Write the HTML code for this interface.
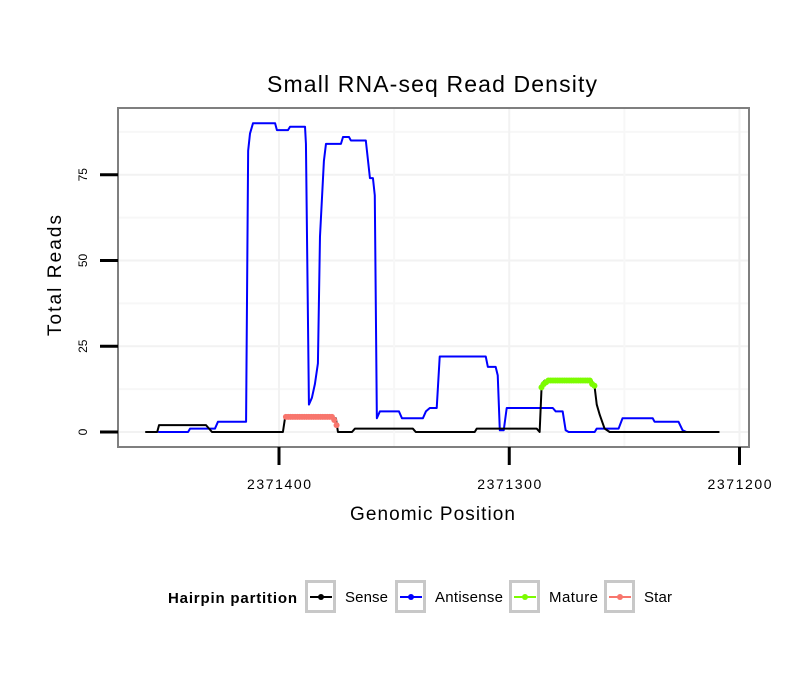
<!DOCTYPE html>
<html><head><meta charset="utf-8"><style>
body{margin:0;background:#fff;font-family:"Liberation Sans",sans-serif}
svg text{font-family:"Liberation Sans",sans-serif}
</style></head><body>
<svg id="chart" width="810" height="690" viewBox="0 0 810 690">
<rect width="810" height="690" fill="#fff"/>
<text x="267" y="92" font-size="23" textLength="330" lengthAdjust="spacing">Small RNA-seq Read Density</text>
<g id="grid"></g>
<g id="series"></g>
<rect x="118" y="108" width="631" height="339" fill="none" stroke="#7f7f7f" stroke-width="2"/>
<g id="axes"></g>
<text x="350" y="520" font-size="19" textLength="165" lengthAdjust="spacing">Genomic Position</text>
<text transform="translate(61,336) rotate(-90)" font-size="19" textLength="121" lengthAdjust="spacing">Total Reads</text>
<g>
<text x="168" y="603" font-size="15" font-weight="bold" textLength="129" lengthAdjust="spacing">Hairpin partition</text>
<g id="legend"></g>
</g>
</svg>
<script>
const xTicks=[2371400,2371300,2371200];
const yTicks=[0,25,50,75];
const senseX=[2371458.1,2371452.9,2371452.1,2371431.7,2371429.1,2371398.3,2371397.4,2371375.3,2371374.4,2371368.3,2371367.0,2371341.9,2371340.6,2371315.0,2371314.1,2371288.1,2371286.8,2371285.9,2371284.6,2371264.2,2371262.9,2371262.0,2371260.7,2371258.6,2371256.4,2371208.7];
const senseY=[0,0,2,2,0,0,4,4,0,0,1,1,0,0,1,1,0,14,15,15,13,8,5,1,0,0];
const antiX=[2371452.5,2371439.5,2371438.6,2371427.8,2371426.5,2371414.3,2371413.4,2371412.6,2371411.3,2371401.7,2371400.9,2371396.1,2371395.2,2371388.7,2371388.3,2371387.0,2371385.7,2371384.4,2371383.1,2371382.2,2371380.5,2371379.6,2371373.1,2371372.2,2371369.6,2371368.8,2371362.3,2371360.5,2371359.2,2371358.4,2371357.5,2371356.2,2371347.9,2371346.6,2371337.5,2371336.2,2371334.5,2371331.5,2371330.2,2371329.3,2371310.2,2371309.3,2371305.9,2371305.0,2371304.1,2371302.4,2371301.1,2371299.8,2371281.1,2371279.8,2371276.8,2371275.5,2371274.2,2371262.9,2371262.0,2371252.5,2371250.8,2371237.7,2371236.9,2371226.5,2371224.7,2371223.0];
const antiY=[0,0,1,1,3,3,82,87,90,90,88,88,89,89,84,8,10,14,20,57,79,84,84,86,86,85,85,74,74,69,4,6,6,4,4,6,7,7,22,22,22,19,19,16.5,0.5,0.5,7,7,7,6,6,0.5,0,0,1,1,4,4,3,3,0.5,0];
const matureX=[2371286,2371285,2371284,2371283,2371282,2371281,2371280,2371279,2371278,2371277,2371276,2371275,2371274,2371273,2371272,2371271,2371270,2371269,2371268,2371267,2371266,2371265,2371264,2371263];
const matureY=[13,14,14.5,15,15,15,15,15,15,15,15,15,15,15,15,15,15,15,15,15,15,15,14,13.5];
const starX=[2371397,2371396,2371395,2371394,2371393,2371392,2371391,2371390,2371389,2371388,2371387,2371386,2371385,2371384,2371383,2371382,2371381,2371380,2371379,2371378,2371377,2371376,2371375];
const starY=[4.4,4.4,4.4,4.4,4.4,4.4,4.4,4.4,4.4,4.4,4.4,4.4,4.4,4.4,4.4,4.4,4.4,4.4,4.4,4.4,4.4,3.5,2];
const NS='http://www.w3.org/2000/svg';
function xs(v){return 279+(2371400-v)*2.3025;}
function ys(v){return 432-v*3.43;}
function mk(tag,attrs,parent){const e=document.createElementNS(NS,tag);for(const k in attrs)e.setAttribute(k,attrs[k]);parent.appendChild(e);return e;}
const grid=document.getElementById('grid'),axes=document.getElementById('axes'),ser=document.getElementById('series');
for(let i=0;i<yTicks.length;i++){
  const g=mk('line',{x1:119,x2:748,y1:ys(yTicks[i]),y2:ys(yTicks[i]),stroke:'#f2f2f2','stroke-width':2},grid);
  
  
  const m=mk('line',{x1:119,x2:748,y1:ys(yTicks[i]+12.5),y2:ys(yTicks[i]+12.5),stroke:'#f7f7f7','stroke-width':2},grid);
  
  
  const t=mk('line',{x1:100,x2:118,y1:ys(yTicks[i]),y2:ys(yTicks[i]),stroke:'#000','stroke-width':3},axes);
  
  
  const l=mk('text',{transform:`translate(87,${ys(yTicks[i])}) rotate(-90)`,'font-size':12,'text-anchor':'middle'},axes);
  l.textContent=yTicks[i];
  
  
}
for(let i=0;i<xTicks.length;i++){
  const g=mk('line',{x1:xs(xTicks[i]),x2:xs(xTicks[i]),y1:109,y2:446,stroke:'#f2f2f2','stroke-width':2},grid);
  
  
  if(i<xTicks.length-1){
    const m=mk('line',{x1:xs(xTicks[i]-50),x2:xs(xTicks[i]-50),y1:109,y2:446,stroke:'#f7f7f7','stroke-width':2},grid);
    
    
  }
  const t=mk('line',{x1:xs(xTicks[i]),x2:xs(xTicks[i]),y1:447,y2:465,stroke:'#000','stroke-width':3},axes);
  
  
  const l=mk('text',{x:xs(xTicks[i])-32,y:489,'font-size':14,textLength:64,lengthAdjust:'spacing'},axes);
  l.textContent=xTicks[i];
  
  
}
function line(X,Y,color,name){
  const p=mk('polyline',{points:X.map((x,i)=>xs(x)+','+ys(Y[i])).join(' '),fill:'none',stroke:color,'stroke-width':2,'stroke-linejoin':'round'},ser);
  
  
}
function pts(X,Y,color,name){
  line(X,Y,color,name+'-line');
  X.forEach((x,i)=>{
    const c=mk('circle',{cx:xs(x),cy:ys(Y[i]),r:3,fill:color},ser);
    
    
  });
}
line(antiX,antiY,'#0000ff','antisense-line');
line(senseX,senseY,'#000000','sense-line');
pts(starX,starY,'#f8766d','star');
pts(matureX,matureY,'#7cfc00','mature');
const leg=document.getElementById('legend');
const entries=[['Sense','#000',305,43],['Antisense','#0000ff',395,68],['Mature','#7cfc00',509,49],['Star','#f8766d',604,28]];
entries.forEach(e=>{
  const g=mk('g',{},leg);
  
  
  mk('rect',{x:e[2]+1.5,y:581.5,width:28,height:30,fill:'#fff',stroke:'#c8c8c8','stroke-width':3},g);
  mk('line',{x1:e[2]+5,x2:e[2]+27,y1:597,y2:597,stroke:e[1],'stroke-width':2},g);
  mk('circle',{cx:e[2]+16,cy:597,r:3,fill:e[1]},g);
  const t=mk('text',{x:e[2]+40,y:602,'font-size':15,textLength:e[3],lengthAdjust:'spacing'},g);
  t.textContent=e[0];
});
</script>
</body></html>
